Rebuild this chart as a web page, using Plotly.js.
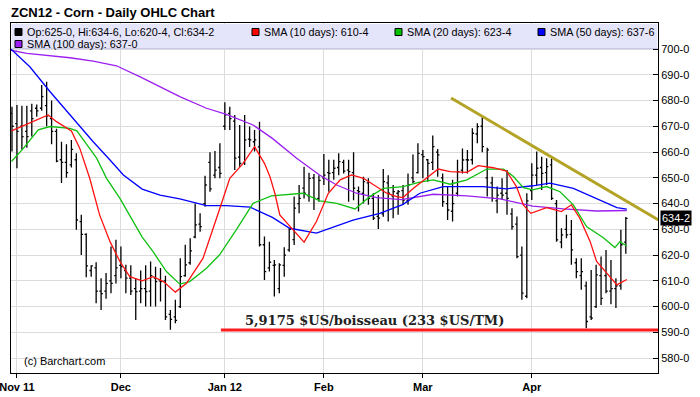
<!DOCTYPE html>
<html>
<head>
<meta charset="utf-8">
<script src="https://cdn.plot.ly/plotly-3.0.1.min.js"></script>
<style>html,body{margin:0;padding:0;background:#fff;}#chart{width:700px;height:397px;}</style>
</head>
<body>
<div id="chart"></div>
<script>
// Daily OHLC, trading-day index -1 (Oct 31 2011) .. 123 (Apr 30 2012)
const openP  = [675,671,670,668,676,677,677,678,673,668,657,656,655,657,633,628,614,615,606,606,610,612,616,614,611,607,606,607,606,611,610,610,597,596,600,612,617,627,632,640,656,651,654,670,675,672,658,656,665,664,662,624,615,616,607,616,622,626,640,646,643,650,642,650,652,652,654,656,653,652,645,644,648,642,635,636,648,643,644,645,641,650,652,659,657,656,660,650,640,637,644,653,657,657,667,670,650,648,641,644,644,636,632,620,604,645,651,654,652,655,640,625,630,628,617,612,608,596,600,612,612,606,607,608,625];
const highP  = [677.6,678.3,678,678,678.7,678.5,686,687.3,680,669,664,663,664.7,659.5,635.6,628.5,616,617.2,611,613,623.3,625.9,623.3,616.2,616,611,614,616,617.5,615.5,615,612,598.7,602.6,618.8,624,626.5,640,636.2,650.8,659.9,660.4,663.4,679.3,677.6,674.4,670.5,674.4,669.9,668.6,671.8,627.2,625.2,618.1,616.8,623,630.4,642.7,647.2,654.3,652,651.5,651,659.2,657,657,659.5,657,657,659.9,646.6,650.4,649.8,644,643.3,653.4,651,647.2,645.3,647.2,651.7,659,663.4,660.8,657.3,666.4,661.2,651.7,646.6,649.2,657,661.4,660.8,669.2,671.2,673.7,661.7,650.4,646.6,649.8,653,638.2,635,623.3,644,655.6,660.2,658.2,657.6,657.6,641.4,630.4,635.6,633.6,618.8,618.8,609.7,614.2,616.2,619.4,622,618.1,611,629.8,634.75];
const lowP   = [660.2,653.7,661,661.7,666,673.7,676,670,663,656,648,650,654,629.8,620,611.4,611.6,601.3,598.7,603,605.2,609,611,605.2,604.5,594.8,601.3,600,600,600,602,594.8,591,593.5,599.4,611.6,616.2,626.5,629,638.8,644.6,649.8,649.8,668.6,668.6,653,654.3,655,662,660.2,623.3,610.3,613.6,603.9,605.2,611.6,621.3,623.9,636.2,642,640.7,637.5,640.7,647.2,644.6,649.2,651,651.7,640.7,641.3,636.9,640,639.5,633.6,630.1,634.9,633,634.3,635.6,639.5,639.5,647.9,651.7,649.8,648.5,653,650.4,638.8,633.6,633,642.7,651.7,651.7,655.2,663.4,659.9,642.7,640.7,636.2,641.4,635.6,629.8,618.8,602.6,603.2,641.4,647.2,645.3,647.2,641.4,625.2,622.6,626.5,616.2,611,606.5,591.6,594.8,599.4,600.6,605.2,600.9,599.4,606.5,620.5];
const closeP = [670,668,666,666,673,676,681.5,674,668,656.5,656,652,661,633.6,628,615.8,615.8,606,605,609,609,615,615.5,611,606,605.8,607,605.8,612,609.7,609.7,596,595,594.6,611.6,616.2,621.6,631.7,631,647.2,645.7,653,651.7,674.4,673,657.6,655.6,664.7,664.7,664.7,624,613.6,617.2,616.2,616.2,620,630,638.2,642,644,649.8,642,649,651,651.7,653.7,656.3,652.6,652.4,646,644.6,648.5,642,634.3,634.3,648.5,644,644.6,644.6,641.3,647.2,648.5,659.5,658.2,655.6,662.1,658.9,640.7,637.5,640,652.4,656.9,656.9,667.3,669.9,662.1,660.8,642,643.3,643.3,642,631,619.4,605.2,641,651,653.7,651.7,654.3,642,625.9,627.8,627.8,622,613.6,613.6,594.2,595.5,612.3,603.2,606,607,608,624,634.25];
const firstDay = -1;

// Moving averages (trading-day index, price)
const sma10X = [-1.1,2.6,5.3,6.3,8,11,12.7,14.7,16.7,18.8,20.8,22.8,25.3,27.5,29.6,32,34.3,37.6,41,43,45.7,48,50,51.1,52.1,53.1,55.8,58,60.5,62.9,65.3,67.6,70,72,74.7,76.7,78,80.1,82.8,85.1,87.5,90.9,93.2,96.2,98.9,100.9,102.3,103.8,107,110,112,113.7,115.8,117.1,119.2,121.2,123.2];
const sma10Y = [668.2,671.2,673.7,674.4,671.8,668.2,661.4,649.8,635.6,625.2,617.5,611.6,610,611.6,609.7,605.6,609.1,618.8,638.2,649.8,655.6,662.1,655.6,650.5,644,635.6,629.8,625,633,644,649.2,651.1,649.8,647.2,644,642.7,642.3,645.9,649.8,653.4,652.4,652.1,654.7,653.9,652.6,646.6,639.5,636.2,638.4,636.9,639.5,634.3,625.2,617.5,612.9,608.4,610.5];
const sma20X = [-1.1,1.3,4.3,6.7,10.7,12.1,16.1,18.1,20.8,23.5,25.3,27.5,30.2,32.9,34.9,38.3,40.9,44.3,47.7,51.4,57.8,61.2,64.6,68.3,71.3,74,78,81.4,84.1,87.5,90.9,94.9,98.3,100.3,102.3,104.2,107,109.7,112.4,115.1,118.4,120.8,121.8,123.2];
const sma20Y = [656.3,661.4,668.6,669.9,669.2,668.2,657.6,649.8,642,633,627,621.3,613.6,608.7,609.7,614.9,620,629.8,640.1,643,644,641,640.1,637.9,642.7,645.9,646.6,648.3,649.2,647.5,649.2,653.4,653.4,650.5,646.2,645.3,646.6,644.6,639.5,631,626.8,622.9,625.2,623.5];
const sma50X = [-1.4,2.6,6.7,10.7,15.4,18.8,21.5,25.3,28.9,32.9,38.3,42.3,47.1,51.6,55.1,60.5,67.9,73.3,77.9,81.4,86.1,94.2,98.9,104.2,107.7,112.4,117.1,121.2,123.2];
const sma50Y = [700.3,693.1,683.4,674.4,664,656.9,651.1,645.6,643.3,641.8,639.2,639.2,638.6,634.6,630.4,628.5,633.6,636.2,639.6,644,646.6,646.6,645.7,646.9,647.9,645.9,642,638.4,637.8];
const sma100X = [-1.4,2,10.7,15.4,20.1,25,32.9,38.3,42.3,47.7,51.6,56.5,61.2,64.6,68.6,72.7,77.7,84.1,90.9,97.6,104.2,110.4,117.1,123.2];
const sma100Y = [699.6,698.3,696.6,695.3,693.5,689.1,681.5,677,674.6,670.5,665.3,657.6,651,647.2,644,642.3,641.5,643.6,643,641.8,639,637.9,637.1,637.3];

// Drawn trend line and support line
const trendX = [87.7, 129.6];
const trendY = [681, 633.6];
const supportX = [41.2, 129.8];
const supportY = [590.9, 590.9];

// Axis ticks
const monthTickDays = [0, 21, 42, 62, 82, 104];
const monthTickText = ['Nov 11', 'Dec', 'Jan 12', 'Feb', 'Mar', 'Apr'];
const priceTicks = [580, 590, 600, 610, 620, 630, 640, 650, 660, 670, 680, 690, 700];
const priceTickText = priceTicks.map(v => v + '-0');

// Legend
const legendItems = [
  {text: 'Op:625-0, Hi:634-6, Lo:620-4, Cl:634-2', color: '#000000', px: 15, py: 32},
  {text: 'SMA (10 days): 610-4', color: '#ff0000', px: 252, py: 32},
  {text: 'SMA (20 days): 623-4', color: '#00c000', px: 395, py: 32},
  {text: 'SMA (50 days): 637-6', color: '#0000ff', px: 538, py: 32},
  {text: 'SMA (100 days): 637-0', color: '#9b1ff0', px: 15, py: 44}
];
const lastPriceText = '634-2';
const lastPrice = 634.25;

const days = openP.map((_, i) => i + firstDay);

// Layout geometry (pixels)
const W = 700, H = 397, L = 11, R = 658, T = 23, B = 373;
const px2x = p => (p - L) / (R - L);
const py2y = p => (B - p) / (B - T);

const font = 'Liberation Sans, Arial, Helvetica, sans-serif';

const traces = [
  {type: 'scatter', mode: 'lines', x: sma100X, y: sma100Y, line: {color: '#9b1ff0', width: 1.3}, hoverinfo: 'skip'},
  {type: 'scatter', mode: 'lines', x: sma50X, y: sma50Y, line: {color: '#0000ff', width: 1.3}, hoverinfo: 'skip'},
  {type: 'scatter', mode: 'lines', x: sma20X, y: sma20Y, line: {color: '#10c010', width: 1.3}, hoverinfo: 'skip'},
  {type: 'scatter', mode: 'lines', x: sma10X, y: sma10Y, line: {color: '#ff1010', width: 1.3}, hoverinfo: 'skip'},
  {type: 'ohlc', x: days, open: openP, high: highP, low: lowP, close: closeP,
   increasing: {line: {color: '#000', width: 1.3}}, decreasing: {line: {color: '#000', width: 1.3}},
   tickwidth: 0.35, hoverinfo: 'skip'},
  {type: 'scatter', mode: 'lines', x: trendX, y: trendY, line: {color: '#b3a326', width: 3}, hoverinfo: 'skip'},
  {type: 'scatter', mode: 'lines', x: supportX, y: supportY, line: {color: '#ff1c1c', width: 3}, hoverinfo: 'skip'}
];

const shapes = [
  {type: 'rect', xref: 'paper', yref: 'paper', x0: 0.001, x1: 0.999, y0: py2y(48.5), y1: 0.997,
   fillcolor: '#e4e4fa', line: {width: 0}, layer: 'above'},
  {type: 'line', xref: 'paper', yref: 'paper', x0: 0, x1: 1, y0: py2y(48.5), y1: py2y(48.5),
   line: {color: '#c8c8e8', width: 1}, layer: 'above'}
];
const annotations = [];
legendItems.forEach(it => {
  shapes.push({type: 'rect', xref: 'paper', yref: 'paper',
    x0: px2x(it.px), x1: px2x(it.px + 7), y0: py2y(it.py + 3.5), y1: py2y(it.py - 3.5),
    fillcolor: it.color, line: {color: '#000', width: 1}, layer: 'above'});
  annotations.push({xref: 'paper', yref: 'paper', x: px2x(it.px + 10), y: py2y(it.py),
    xanchor: 'left', yanchor: 'middle', showarrow: false, text: it.text,
    font: {family: font, size: 10.8, color: '#000'}});
});
annotations.push({xref: 'x', yref: 'y', x: 45.7, y: 594.6, xanchor: 'left', yanchor: 'middle',
  showarrow: false, text: '<b>5,9175 $US/boisseau (233 $US/TM)</b>',
  font: {family: 'DejaVu Serif, serif', size: 13, color: '#222'}});
annotations.push({xref: 'paper', yref: 'y', x: 1, xshift: 2, y: lastPrice, xanchor: 'left', yanchor: 'middle',
  showarrow: false, text: lastPriceText, bgcolor: '#000', borderpad: 1,
  font: {family: font, size: 11, color: '#fff'}});
annotations.push({xref: 'paper', yref: 'paper', x: px2x(22), y: py2y(361), xanchor: 'left', yanchor: 'middle',
  showarrow: false, text: '(c) Barchart.com', font: {family: font, size: 11, color: '#000'}});

const layout = {
  width: W, height: H,
  margin: {l: L, r: W - R, t: T, b: H - B, pad: 0},
  paper_bgcolor: '#fff', plot_bgcolor: '#fff',
  showlegend: false, hovermode: false,
  title: {text: '<b>ZCN12 - Corn - Daily OHLC Chart</b>', x: 11 / W, xref: 'container', xanchor: 'left',
    y: 1 - 12 / H, yref: 'container', yanchor: 'middle', font: {family: font, size: 13, color: '#000'}},
  xaxis: {type: 'linear', range: [-1.2, 129.5], tickvals: monthTickDays, ticktext: monthTickText,
    ticks: 'outside', ticklen: 4, tickcolor: '#000', showgrid: true, gridcolor: '#dcdcdc', gridwidth: 1,
    showline: true, linecolor: '#000', linewidth: 1, mirror: true, zeroline: false,
    rangeslider: {visible: false}, fixedrange: true, ticklabeloverflow: 'allow',
    tickfont: {family: font, size: 11, color: '#000', weight: 'bold'}},
  yaxis: {range: [574.2, 710.1], side: 'right', tickvals: priceTicks, ticktext: priceTickText,
    ticks: 'inside', ticklen: 5, tickcolor: '#000', showgrid: true, gridcolor: '#dcdcdc', gridwidth: 1,
    showline: true, linecolor: '#000', linewidth: 1, mirror: true, zeroline: false, fixedrange: true,
    tickfont: {family: font, size: 11, color: '#000'}},
  shapes: shapes, annotations: annotations
};

Plotly.newPlot('chart', traces, layout, {staticPlot: true, displayModeBar: false});
</script>
</body>
</html>
